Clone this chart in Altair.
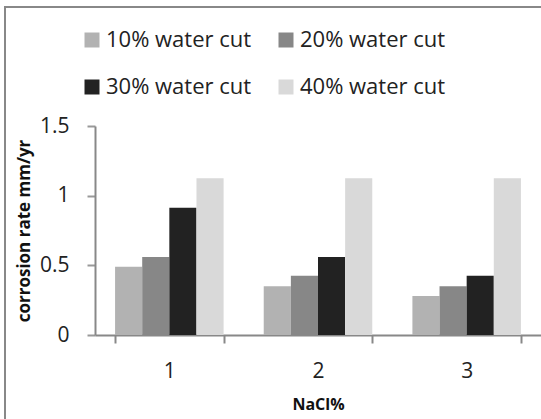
import altair as alt
import pandas as pd

nacl = ["1", "2", "3"]
series = ["10% water cut", "20% water cut", "30% water cut", "40% water cut"]
wc10 = [0.49, 0.35, 0.28]
wc20 = [0.56, 0.426, 0.35]
wc30 = [0.914, 0.56, 0.426]
wc40 = [1.125, 1.125, 1.125]
colors = ["#b2b2b2", "#878787", "#222222", "#d9d9d9"]

rows = []
for s, vals in zip(series, [wc10, wc20, wc30, wc40]):
    for n, v in zip(nacl, vals):
        rows.append({"NaCl": n, "series": s, "rate": v})
df = pd.DataFrame(rows)

FONT = "Open Sans"

bars = alt.Chart(df).mark_bar().encode(
    x=alt.X("NaCl:N", sort=nacl,
            scale=alt.Scale(paddingInner=0.27, paddingOuter=0.135),
            axis=alt.Axis(title="NaCl%", labelAngle=0, tickBand="extent",
                          labelFontSize=21, labelFont=FONT, labelColor="#222222",
                          labelPadding=17, titleFont=FONT, titleFontSize=16,
                          titleFontWeight="bold", titleColor="#111111",
                          titlePadding=15, domainColor="#888888", domainWidth=2,
                          tickColor="#888888", tickWidth=2, tickSize=8)),
    xOffset=alt.XOffset("series:N", sort=series),
    y=alt.Y("rate:Q", scale=alt.Scale(domain=[0, 1.5]),
            axis=alt.Axis(title="corrosion rate mm/yr", values=[0, 0.5, 1, 1.5],
                          format="~g", grid=False,
                          labelFontSize=21, labelFont=FONT, labelColor="#222222",
                          labelPadding=18, titleFont=FONT, titleFontSize=17,
                          titleFontWeight="bold", titleColor="#111111",
                          titlePadding=6, domainColor="#888888", domainWidth=2,
                          tickColor="#999999", tickWidth=2, tickSize=8)),
    color=alt.Color("series:N", sort=series,
                    scale=alt.Scale(domain=series, range=colors),
                    legend=alt.Legend(title=None, orient="none", legendX=-14, legendY=-97,
                                      columns=2, direction="horizontal",
                                      symbolType="square", symbolSize=225,
                                      symbolStrokeWidth=0, labelFont=FONT,
                                      labelFontSize=22, labelColor="#222222",
                                      labelOffset=3, columnPadding=23,
                                      rowPadding=25, padding=0,
                                      labelLimit=300)),
)

frame = alt.Chart(pd.DataFrame({"k": [0]})).mark_rect(
    fill=None, stroke="#888888", strokeWidth=2, clip=False
).encode(x=alt.value(-90), x2=alt.value(470), y=alt.value(-119), y2=alt.value(320))

chart = alt.layer(frame, bars).properties(
    width=446, height=209,
    autosize=alt.AutoSizeParams(type="none"),
    padding={"left": 95, "top": 126, "right": 0, "bottom": 84},
).configure_view(stroke=None)

chart.save("out.html", embed_options={"renderer": "svg", "actions": False})
